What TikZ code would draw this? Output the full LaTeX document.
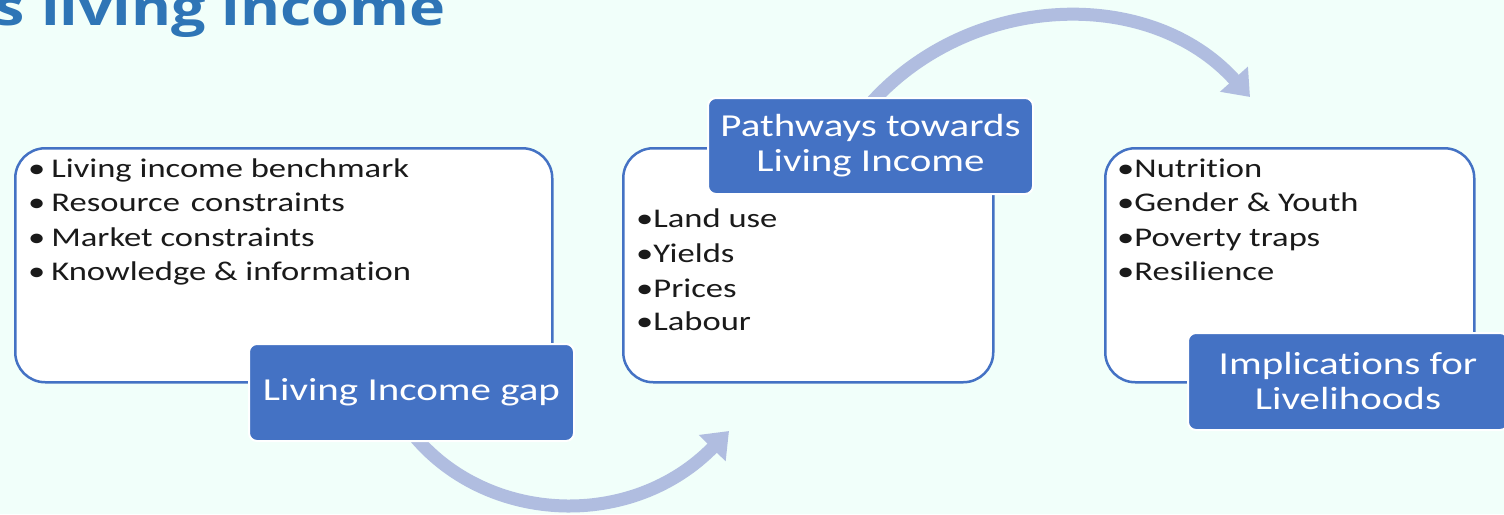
\documentclass[tikz,border=0pt]{standalone}
\usepackage{fontspec}
\setmainfont{Carlito}
\newfontfamily\bodyfont[FakeStretch=1.28,Ligatures=NoCommon]{Carlito}
\newfontfamily\titlefont[FakeStretch=1.22]{Open Sans}
\usetikzlibrary{arrows.meta}
\definecolor{bg}{HTML}{F1FFFA}
\definecolor{accent}{HTML}{4472C4}
\definecolor{flowc}{HTML}{B0BDE0}
\definecolor{titleblue}{HTML}{2E75B6}
\definecolor{ink}{HTML}{1A1A1A}

\begin{document}
\begin{tikzpicture}[x=1pt,y=-1pt,
  listbox/.style={draw=accent, line width=2.5pt, fill=white, rounded corners=30pt,
    inner sep=0pt, anchor=north west},
  tagbox/.style={draw=white, line width=2pt, fill=accent, rounded corners=8pt,
    inner sep=0pt, anchor=north west, text=white, align=center,
    font=\bodyfont\fontsize{32}{35}\selectfont},
  item/.style={anchor=base west, inner sep=0pt, text=ink,
    font=\bodyfont\fontsize{27}{34}\selectfont},
  flow/.style={draw=flowc, line width=13pt, -{Triangle[length=24pt,width=36pt]}}]

% page and background
\useasboundingbox (0,0) rectangle (1504,514);
\clip (0,0) rectangle (1504,514);
\fill[bg] (0,0) rectangle (1504,514);

% heading
\node[anchor=base east, inner sep=0pt, text=titleblue,
  font=\titlefont\bfseries\fontsize{50}{50}\selectfont] (title) at (446,25) {s living income};

% content boxes
\node[listbox, minimum width=537pt, minimum height=234pt] (gapbox) at (14,147) {};
\node[listbox, minimum width=370pt, minimum height=234pt] (pathbox) at (622,147) {};
\node[listbox, minimum width=369pt, minimum height=234pt] (implbox) at (1104,147) {};

% items of the first box
\node[item] (g1) at (28,177)   {•\hspace{6pt}Living income benchmark};
\node[item] (g2) at (28,211.5) {•\hspace{6pt}Resource\hspace{3pt} constraints};
\node[item] (g3) at (28,246)   {•\hspace{6pt}Market constraints};
\node[item] (g4) at (28,280.5) {•\hspace{6pt}Knowledge \& information};

% items of the second box
\node[item] (p1) at (636,227) {•Land use};
\node[item] (p2) at (636,262) {•Yields};
\node[item] (p3) at (636,297) {•Prices};
\node[item] (p4) at (636,330) {•Labour};

% items of the third box
\node[item] (i1) at (1117,177)   {•Nutrition};
\node[item] (i2) at (1117,211.5) {•Gender \& Youth};
\node[item] (i3) at (1117,246)   {•Poverty traps};
\node[item] (i4) at (1117,280.5) {•Resilience};

% curved flow arrows
\coordinate (f1s) at (416,438);
\coordinate (f1e) at (729,431);
\coordinate (f2s) at (872,102);
\coordinate (f2e) at (1250,97);
\draw[flow] (f1s) .. controls (490,524) and (632,530) .. (f1e);
\draw[flow] (f2s) .. controls (972,-8) and (1150,-14) .. (f2e);

% title tags
\node[tagbox, minimum width=325pt, minimum height=97pt] (gaptag) at (248,343) {Living Income gap};
\node[tagbox, minimum width=325pt, minimum height=96pt] (pathtag) at (707,97) {Pathways towards\\Living Income};
\node[tagbox, minimum width=320pt, minimum height=97pt] (impltag) at (1187,332) {Implications for\\Livelihoods};
\end{tikzpicture}
\end{document}
